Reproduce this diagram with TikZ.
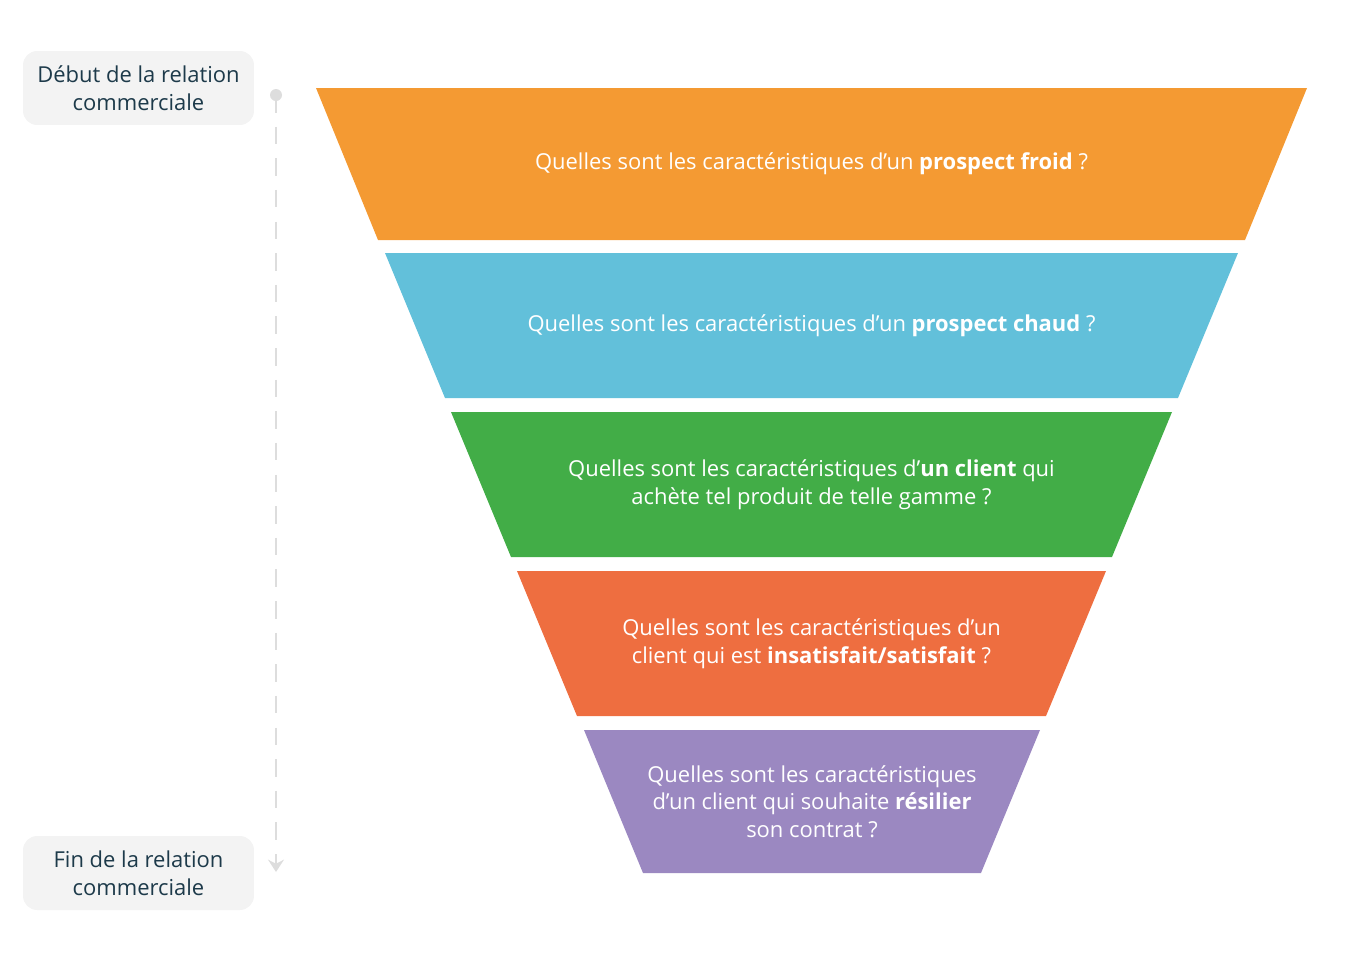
\documentclass[tikz,border=0pt]{standalone}
\usepackage{fontspec}
\setmainfont{Open Sans}
\usetikzlibrary{arrows.meta}
\definecolor{froid}{HTML}{F49A33}
\definecolor{chaud}{HTML}{62C0DA}
\definecolor{client}{HTML}{42AD47}
\definecolor{satis}{HTML}{EE6E40}
\definecolor{resil}{HTML}{9B88C1}
\definecolor{etiq}{HTML}{1D3A4A}
\definecolor{boite}{HTML}{F3F3F3}
\definecolor{trait}{HTML}{DDDDDD}
\newcommand{\etage}[7]{% name, color, ytop, ybot, xtl, xtr, xbl/xbr via offset
  \fill[#2] (#5,#3) -- (#6,#3) -- ({#6-#7},#4) -- ({#5+#7},#4) -- cycle;
  \coordinate (#1) at ({(#5+#6)/2},{(#3+#4)/2});
}
\begin{document}
\begin{tikzpicture}[x=0.02cm,y=-0.02cm]
\tikzstyle{every node}=[font=\fontsize{12.5}{15.8}\selectfont]
\tikzstyle{question}=[text=white,align=center]
\tikzstyle{repere}=[fill=boite,rounded corners=8pt,text=etiq,align=center,minimum width=4.62cm,minimum height=1.48cm]
\useasboundingbox (0,0) rectangle (1360,961);
\etage{f1}{froid}{88}{240}{316}{1307}{62}
\etage{f2}{chaud}{253}{398}{385}{1238}{60}
\etage{f3}{client}{412}{557}{451}{1172}{60}
\etage{f4}{satis}{571}{716}{517}{1106}{60}
\etage{f5}{resil}{730}{873}{584}{1040}{59}
\node[question] (q1) at (f1) {Quelles sont les caractéristiques d'un \textbf{prospect froid} ?};
\node[question] (q2) at (f2) {Quelles sont les caractéristiques d'un \textbf{prospect chaud} ?};
\node[question] (q3) at (f3) {Quelles sont les caractéristiques d'\textbf{un client} qui\\achète tel produit de telle gamme ?};
\node[question] (q4) at (f4) {Quelles sont les caractéristiques d'un\\client qui est \textbf{insatisfait/satisfait} ?};
\node[question] (q5) at (f5) {Quelles sont les caractéristiques\\d'un client qui souhaite \textbf{résilier}\\son contrat ?};
\node[repere] (debut) at (138.5,88) {Début de la relation\\commerciale};
\node[repere] (fin) at (138.5,873) {Fin de la relation\\commerciale};
\coordinate (haut) at (276,95);
\coordinate (bas) at (276,872);
\fill[trait] (haut) circle (6);
\draw[trait,line width=1.5pt,dash pattern=on 10pt off 8pt,-{Stealth[length=7pt,width=9pt]}] (haut) -- (bas);
\end{tikzpicture}
\end{document}
